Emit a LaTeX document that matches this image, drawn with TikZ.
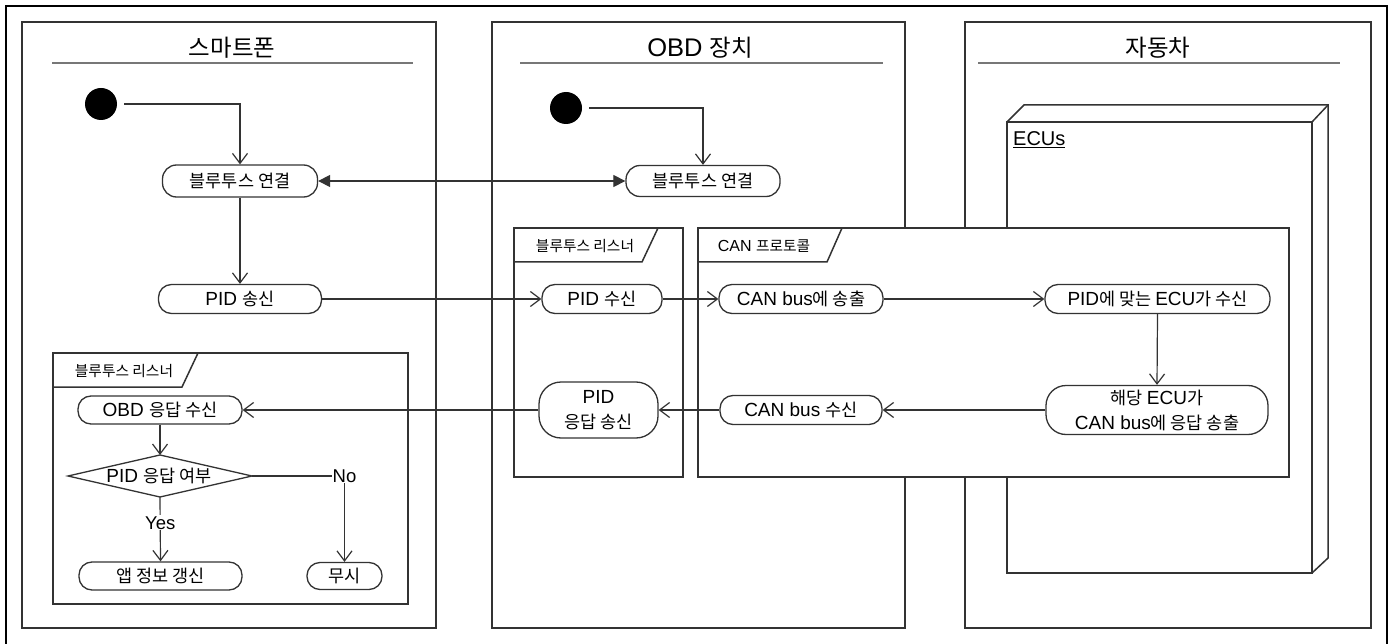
\documentclass[tikz,border=0pt]{standalone}
\usepackage{fontspec}
\setmainfont{Liberation Sans}
\newfontfamily\ko[Scale=0.92]{Noto Sans CJK KR}
\usetikzlibrary{arrows.meta}
\definecolor{ln}{HTML}{333333}
\definecolor{tl}{HTML}{777777}
\begin{document}
\begin{tikzpicture}[x=1pt,y=-1pt,
  lane/.style={draw=ln, line width=1.6pt, fill=white},
  frame/.style={draw=ln, line width=1.5pt, fill=white},
  act/.style={draw=ln, line width=1.3pt, fill=white, rounded corners=13pt, inner sep=0pt,
    font=\fontsize{19}{25}\selectfont, align=center, text=black},
  title/.style={font=\fontsize{25.5}{28}\selectfont, text=black},
  tab/.style={font=\fontsize{16}{18}\selectfont, text=black, inner sep=0pt},
  lbl/.style={font=\fontsize{18.5}{21}\selectfont, fill=white, inner sep=1pt, text=black},
  conn/.style={draw=ln, line width=1.2pt, -{Straight Barb[length=10pt,width=15pt,line width=1.2pt]}},
  startdot/.style={circle, fill=black, minimum size=32pt, inner sep=0pt},
]
\useasboundingbox (0,0) rectangle (1394,644);
% outer border
\draw[black, line width=1.6pt] (6,650) -- (6,6) -- (1387,6) -- (1387,650);
% lanes
\draw[lane] (22,22) rectangle (436,628);
\draw[lane] (492,22) rectangle (905,628);
\draw[lane] (965,22) rectangle (1371,628);
\node[title] (t1) at (232,48) {\ko 스마트폰};
\node[title] (t2) at (700,48) {OBD {\ko 장치}};
\node[title] (t3) at (1158,48) {\ko 자동차};
\draw[tl, line width=1.6pt] (52,63) -- (413,63);
\draw[tl, line width=1.6pt] (520,63) -- (883,63);
\draw[tl, line width=1.6pt] (978,63) -- (1340,63);
% ECU box (3D)
\draw[frame] (1007,122) -- (1024,105) -- (1328,105) -- (1328,558) -- (1312,573) -- (1007,573) -- cycle;
\draw[draw=ln, line width=1.5pt] (1007,122) rectangle (1312,573);
\draw[draw=ln, line width=1.5pt] (1312,122) -- (1328,105);
\node[font=\fontsize{20}{22}\selectfont, anchor=west, inner sep=0pt] (ecus) at (1013,140) {\underline{ECUs}};
% listener frames
\draw[frame] (53,353) rectangle (408,604);
\draw[draw=ln, line width=1.5pt] (53,387) -- (182,387) -- (198,353);
\node[tab] (tabA) at (124,371) {\ko 블루투스 리스너};
\draw[frame] (514,228) rectangle (683,477);
\draw[draw=ln, line width=1.5pt] (514,262) -- (642,262) -- (658,228);
\node[tab] (tabB) at (585,246) {\ko 블루투스 리스너};
\draw[frame] (698,228) rectangle (1289,477);
\draw[draw=ln, line width=1.5pt] (698,262) -- (827,262) -- (842,228);
\node[tab] (tabC) at (764,246) {CAN {\ko 프로토콜}};
% start points
\node[startdot] (s1) at (101,104) {};
\node[startdot] (s2) at (566,108) {};
% activities
\node[act, minimum width=155pt, minimum height=32pt, rounded corners=14pt] (bt1) at (240,181) {\ko 블루투스 연결};
\node[act, minimum width=163pt, minimum height=29pt] (pidsend) at (240,299) {PID {\ko 송신}};
\node[act, minimum width=154pt, minimum height=31pt, rounded corners=14pt] (bt2) at (703,181) {\ko 블루투스 연결};
\node[act, minimum width=120pt, minimum height=29pt] (pidrecv) at (602,299) {PID {\ko 수신}};
\node[act, minimum width=119pt, minimum height=56pt, rounded corners=22pt] (pidresp) at (598.5,410) {PID\\{\ko 응답 송신}};
\node[act, minimum width=164pt, minimum height=29pt] (cansend) at (801,299) {CAN bus{\ko 에 송출}};
\node[act, minimum width=162pt, minimum height=29pt] (canrecv) at (801,410) {CAN bus {\ko 수신}};
\node[act, minimum width=225pt, minimum height=29pt] (ecurecv) at (1157.5,299) {PID{\ko 에 맞는 }ECU{\ko 가 수신}};
\node[act, minimum width=222pt, minimum height=49pt, rounded corners=20pt] (ecuresp) at (1157,410) {{\ko 해당 }ECU{\ko 가}\\CAN bus{\ko 에 응답 송출}};
\node[act, minimum width=164pt, minimum height=28pt] (obdrecv) at (160,410) {OBD {\ko 응답 수신}};
\node[act, minimum width=163pt, minimum height=28pt] (app) at (160.5,576) {\ko 앱 정보 갱신};
\node[act, minimum width=75pt, minimum height=27pt] (mu) at (344.5,576) {\ko 무시};
% decision
\coordinate (diaL) at (68,476);
\coordinate (diaT) at (160,455);
\coordinate (diaR) at (252,476);
\coordinate (diaB) at (160,497);
\draw[draw=ln, line width=1.3pt, fill=white] (diaL) -- (diaT) -- (diaR) -- (diaB) -- cycle;
\node[font=\fontsize{19}{22}\selectfont, inner sep=0pt] (dia) at (159,476) {PID {\ko 응답 여부}};
% connectors
\draw[conn, shorten <=7pt] (s1) -| (bt1.north);
\draw[conn, shorten <=7pt] (s2) -| (bt2.north);
\draw[draw=ln, line width=1.2pt, {Triangle[length=12pt,width=12pt]}-{Triangle[length=12pt,width=12pt]}] (bt1.east) -- (bt2.west);
\draw[conn] (bt1.south) -- (pidsend.north);
\draw[conn] (pidsend.east) -- (pidrecv.west);
\draw[conn] (pidrecv.east) -- (cansend.west);
\draw[conn] (cansend.east) -- (ecurecv.west);
\draw[conn] (ecurecv.south) -- (ecuresp.north);
\draw[conn] (ecuresp.west) -- (canrecv.east);
\draw[conn] (canrecv.west) -- (pidresp.east);
\draw[conn] (pidresp.west) -- (obdrecv.east);
\draw[conn, line width=2pt] (obdrecv.south) -- (diaT);
\draw[conn] (diaB) -- node[lbl, pos=0.4] {Yes} (app.north);
\draw[conn] (diaR) -| node[lbl, pos=0.5] {No} (mu.north);
\end{tikzpicture}
\end{document}
